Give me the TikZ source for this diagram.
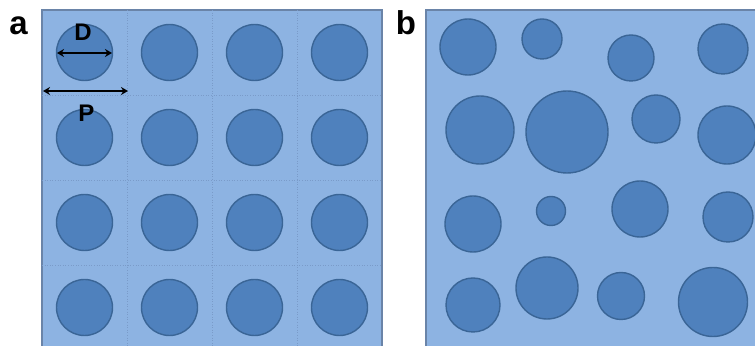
\documentclass[tikz,border=0pt]{standalone}
\usepackage{fontspec}
\setmainfont{Liberation Sans}
\usetikzlibrary{arrows.meta}
\definecolor{cellfill}{HTML}{8DB3E2}
\definecolor{porefill}{HTML}{4F81BD}
\definecolor{poreedge}{HTML}{3A6596}
\definecolor{gridln}{HTML}{7A9BC9}
\definecolor{frameln}{HTML}{6A84A8}

\begin{document}
\begin{tikzpicture}[x=0.5pt, y=-0.5pt,
  panel/.style={draw=frameln, line width=0.8pt, fill=cellfill},
  cell/.style={draw=gridln, line width=0.3pt, densely dotted},
  pore/.style={draw=poreedge, line width=0.7pt, fill=porefill},
  tag/.style={font=\fontsize{16.5}{16.5}\selectfont\bfseries, anchor=base, inner sep=0pt},
  dimlbl/.style={font=\fontsize{12}{12}\selectfont\bfseries, anchor=base, inner sep=0pt},
  arr/.style={{Stealth[length=3.5pt,width=4pt]}-{Stealth[length=3.5pt,width=4pt]}, line width=0.9pt, black}]
\useasboundingbox (0,0) rectangle (755,346);
\clip (0,0) rectangle (755,346);
\draw[panel] (42,10) rectangle (382,360);
\foreach \k in {1,2,3} {
  \draw[cell] (42+85*\k,10) -- (42+85*\k,360);
  \draw[cell] (42,10+85*\k) -- (382,10+85*\k);
}
\foreach \i in {0,...,3}
  \foreach \j in {0,...,3}
    \draw[pore] (84.5+85*\i,52.5+85*\j) circle[radius=28];
\draw[panel] (426,10) rectangle (760,360);
\foreach \cx/\cy/\r in {468/47/28, 542/39/20, 480/130/34, 567/132/41,
  631/58/23, 723/49/25, 656/119/24, 727/135/29, 473/224/28, 551/211/14.5,
  473/305/27, 547/288/31, 640/209/28, 728/217/25, 621/296/23.5, 713/302/34.5}
  \draw[pore] (\cx,\cy) circle[radius=\r];
\node[tag] (tagA) at (18.5,35) {a};
\node[tag] (tagB) at (406,35) {b};
\node[dimlbl] (lblD) at (83,41) {D};
\node[dimlbl] (lblP) at (86.5,122) {P};
\coordinate (dL) at (57,53);
\coordinate (dR) at (112,53);
\coordinate (pL) at (43,91);
\coordinate (pR) at (128,91);
\draw[arr] (dL) -- (dR);
\draw[arr] (pL) -- (pR);
\end{tikzpicture}
\end{document}
